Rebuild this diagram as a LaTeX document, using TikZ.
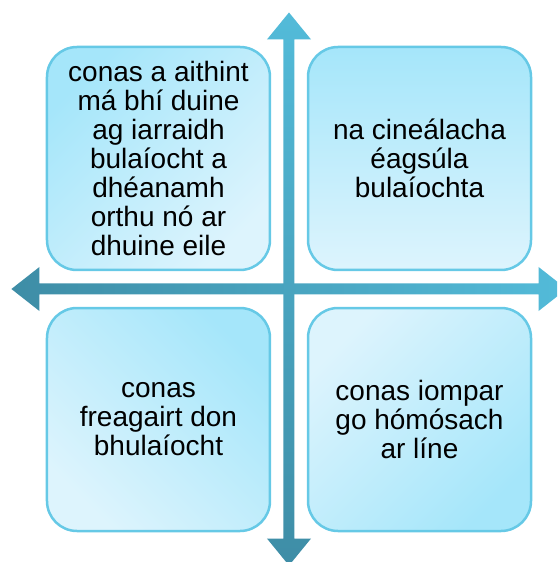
\documentclass[tikz,border=0pt]{standalone}
\usepackage{fontspec}
\setmainfont{Liberation Sans}
\definecolor{boxdark}{HTML}{A5E6FA}
\definecolor{boxlight}{HTML}{DDF4FD}
\definecolor{boxline}{HTML}{66C9E6}
\definecolor{axislight}{HTML}{53BBD9}
\definecolor{axisdark}{HTML}{3E8DA6}

\begin{document}
\begin{tikzpicture}[x=1pt,y=1pt]
   \tikzstyle{topic}=[draw=boxline,line width=2.5pt,rounded corners=30pt,
      minimum width=223pt,minimum height=223pt,align=center,
      font=\fontsize{28}{29}\selectfont]
   \tikzstyle{axis}=[shading=axis]
   \useasboundingbox (-289,-273) rectangle (268,289) ;
   \clip (-289,-273) rectangle (268,289) ;
   % the two axes
   \shade [axis,left color=axisdark,right color=axislight]
      (-277.6,0) -- (-249.6,22) -- (-249.6,5.5) -- (249.6,5.5) -- (249.6,22)
      -- (277.6,0) -- (249.6,-22) -- (249.6,-5.5) -- (-249.6,-5.5)
      -- (-249.6,-22) -- cycle ;
   \shade [axis,top color=axislight,bottom color=axisdark]
      (0,276.5) -- (22,249.6) -- (5.5,249.6) -- (5.5,-249.6) -- (22,-249.6)
      -- (0,-276.5) -- (-22,-249.6) -- (-5.5,-249.6) -- (-5.5,249.6)
      -- (-22,249.6) -- cycle ;
   % the four quadrants
   \node (spot) [topic,top color=boxdark,bottom color=boxlight,shading angle=45]
      at (-130.5,130.5)
      {conas a aithint\\má bhí duine\\ag iarraidh\\bulaíocht a\\dhéanamh\\orthu nó ar\\dhuine eile} ;
   \node (kinds) [topic,top color=boxdark,bottom color=boxlight,right of=spot,node distance=261pt]
      {na cineálacha\\éagsúla\\bulaíochta} ;
   \node (respond) [topic,top color=boxdark,bottom color=boxlight,shading angle=-45,below of=spot,node distance=261pt]
      {conas\\freagairt don\\bhulaíocht} ;
   \node (online) [topic,top color=boxlight,bottom color=boxdark,shading angle=45,right of=respond,node distance=261pt]
      {conas iompar\\go hómósach\\ar líne} ;
\end{tikzpicture}
\end{document}
